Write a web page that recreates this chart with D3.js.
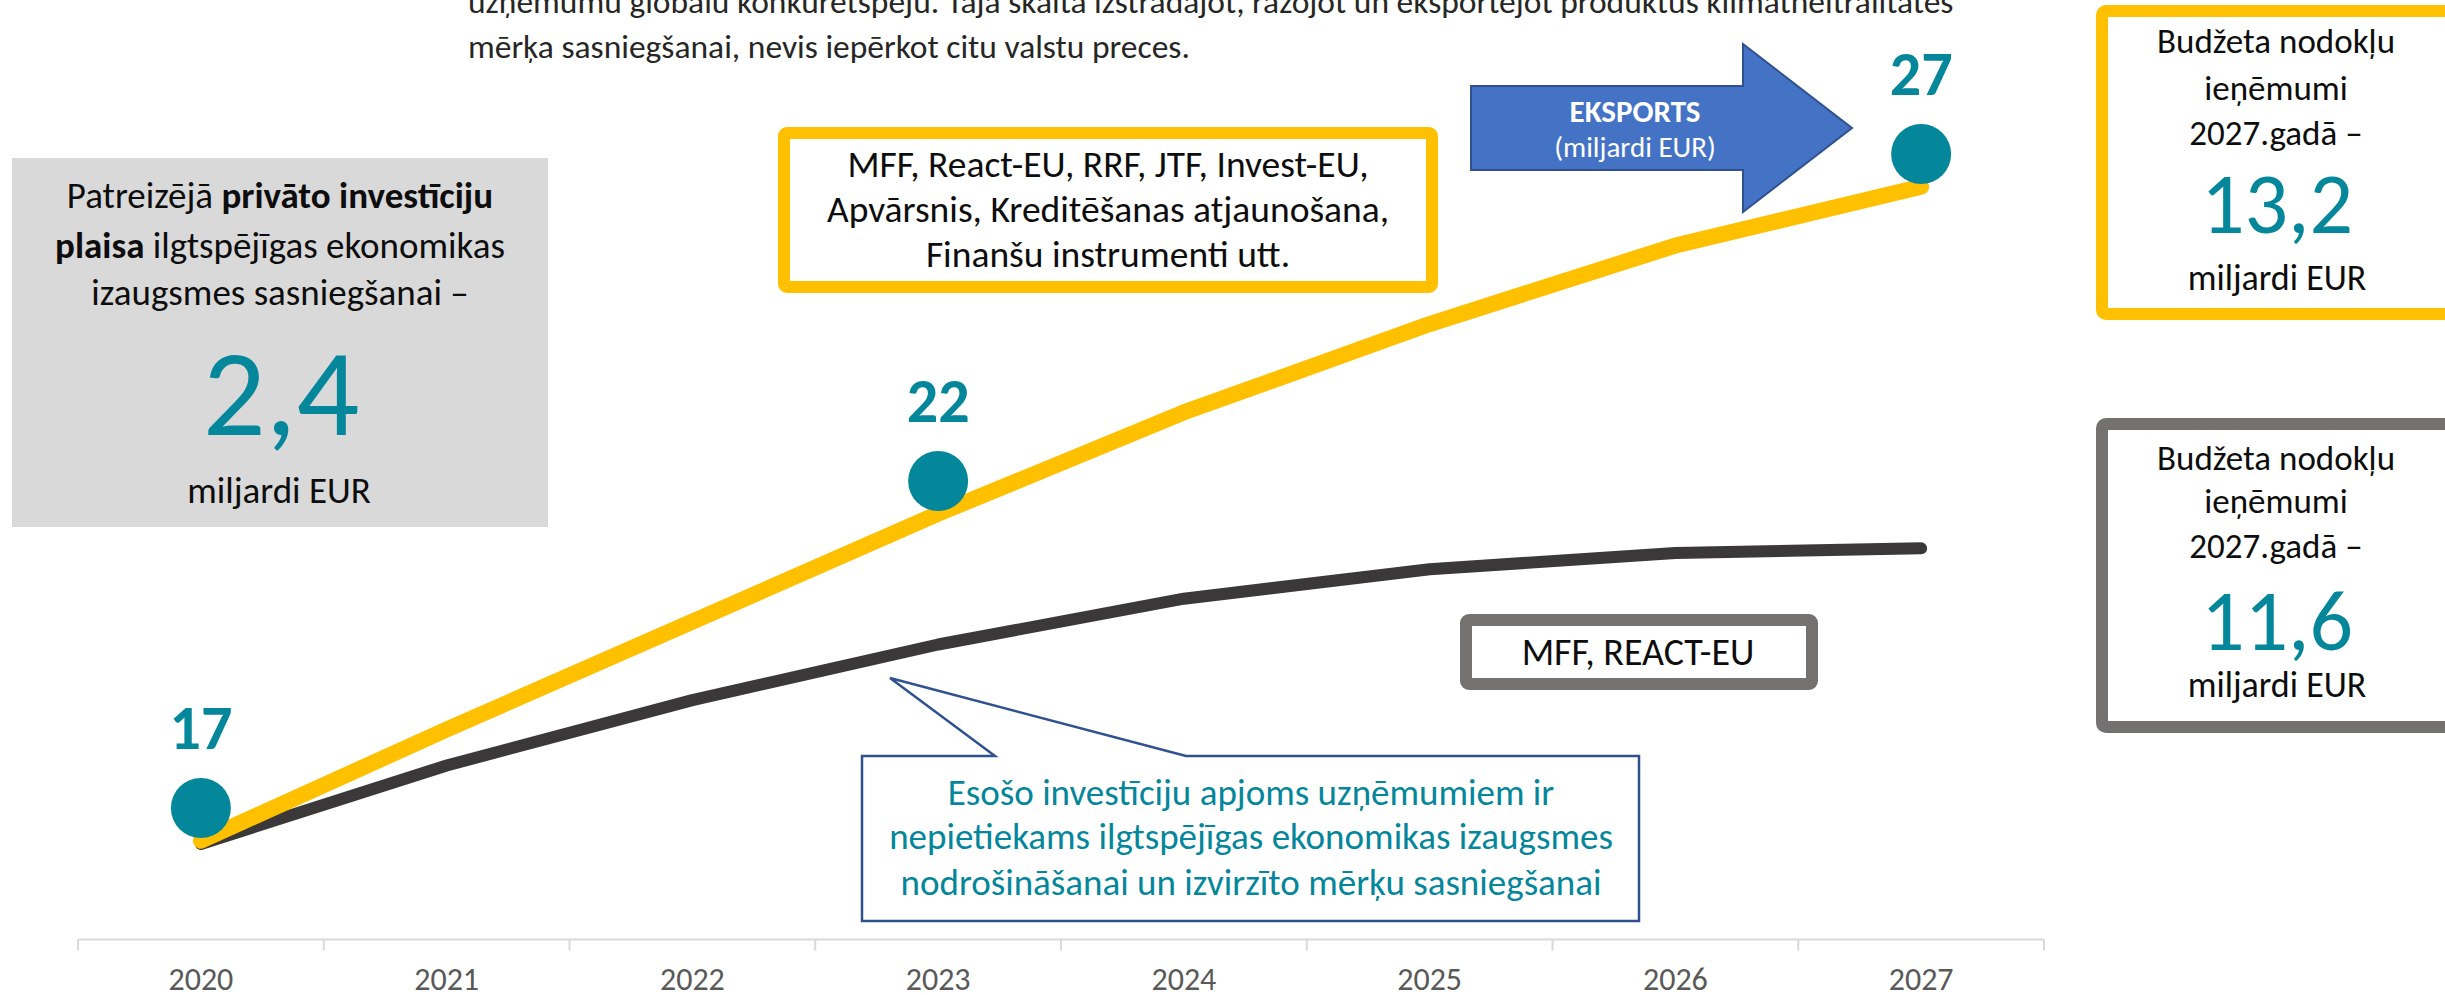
<!DOCTYPE html>
<html>
<head>
<meta charset="utf-8">
<script src="https://cdn.jsdelivr.net/npm/d3@7"></script>
<style>
  body { margin: 0; background: #fff; overflow: hidden; }
  text { font-family: Carlito, Calibri, Lato, sans-serif; }
</style>
</head>
<body>
<script>
const width = 2445
const height = 995

const teal = '#04869B'
const yellow = '#FFC000'
const greyBorder = '#767171'

// gadi uz x ass
const years = ['2020', '2021', '2022', '2023', '2024', '2025', '2026', '2027']

// eksports, miljardi EUR (apļi)
const exportYears = ['2020', '2023', '2027']
const exportValues = [17, 22, 27]

// līnijas (nolasītas no attēla, tajā pašā mērogā)
const allFunds = [16.5, 18.2, 19.85, 21.5, 23.05, 24.4, 25.6, 26.5]
const mffReact = [16.45, 17.65, 18.65, 19.5, 20.2, 20.65, 20.9, 20.97]

// lielie skaitļi kastēs
const gapValue = '2,4'
const budgetAll = '13,2'
const budgetMff = '11,6'

const introLines = [
  'uzņēmumu globālu konkurētspēju. Tajā skaitā izstrādājot, ražojot un eksportējot produktus klimatneitralitātes',
  'mērķa sasniegšanai, nevis iepērkot citu valstu preces.'
]
const fundsLines = ['MFF, React-EU, RRF, JTF, Invest-EU,', 'Apvārsnis, Kreditēšanas atjaunošana,', 'Finanšu instrumenti utt.']
const budgetLines = ['Budžeta nodokļu', 'ieņēmumi', '2027.gadā –']
const calloutLines = [
  'Esošo investīciju apjoms uzņēmumiem ir',
  'nepietiekams ilgtspējīgas ekonomikas izaugsmes',
  'nodrošināšanai un izvirzīto mērķu sasniegšanai'
]

const x = d3.scaleBand().domain(years).range([78, 2044])
const y = d3.scaleLinear().domain([17, 27]).range([808, 154])
const cx = d => x(d) + x.bandwidth() / 2

const svg = d3.select('body').append('svg').attr('width', width).attr('height', height)

// ---- top paragraph (cut off)
svg.append('g')
  .selectAll('text')
  .data(introLines)
  .join('text')
  .attr('x', 468)
  .attr('y', (d, i) => 13 + i * 45)
  .style('font-size', '33.5px')
  .style('fill', '#262626')
  .text(d => d)

// ---- x axis
const axisY = 939.5
const axisG = svg.append('g').attr('transform', `translate(0,${axisY})`)
axisG.append('line')
  .attr('x1', x.range()[0]).attr('x2', x.range()[1])
  .attr('stroke', '#d9d9d9').attr('stroke-width', 2)
axisG.selectAll('line.tick')
  .data(years.concat(['end']))
  .join('line')
  .attr('class', 'tick')
  .attr('x1', d => d === 'end' ? x.range()[1] : x(d))
  .attr('x2', d => d === 'end' ? x.range()[1] : x(d))
  .attr('y1', 0).attr('y2', 11)
  .attr('stroke', '#d9d9d9').attr('stroke-width', 2)

const axis = svg.append('g')
  .attr('transform', `translate(0,${axisY})`)
  .call(d3.axisBottom(x).tickSize(0))
axis.select('.domain').remove()
axis.selectAll('text')
  .attr('y', 50).attr('dy', 0)
  .style('font-size', '32px')
  .style('font-family', 'Carlito, Calibri, Lato, sans-serif')
  .style('fill', '#595959')

// ---- lines
const lineGen = d3.line()
  .x((d, i) => cx(years[i]))
  .y(d => y(d))

svg.append('path')
  .datum(mffReact)
  .attr('d', lineGen)
  .attr('fill', 'none')
  .attr('stroke', '#3A3838')
  .attr('stroke-width', 12)
  .attr('stroke-linecap', 'round')
  .attr('stroke-linejoin', 'round')

svg.append('path')
  .datum(allFunds)
  .attr('d', lineGen)
  .attr('fill', 'none')
  .attr('stroke', yellow)
  .attr('stroke-width', 16)
  .attr('stroke-linecap', 'round')
  .attr('stroke-linejoin', 'round')

// ---- export points
const pts = svg.append('g')
  .selectAll('g')
  .data(exportYears.map((d, i) => ({ year: d, value: exportValues[i] })))
  .join('g')
  .attr('transform', d => `translate(${[cx(d.year), y(d.value)]})`)
pts.append('circle').attr('r', 30).attr('fill', teal)
pts.append('text')
  .attr('y', -59)
  .attr('text-anchor', 'middle')
  .style('font-size', '62px')
  .style('font-weight', 700)
  .style('fill', teal)
  .text(d => d.value)

// ---- grey box on the left
svg.append('rect')
  .attr('x', 12).attr('y', 158).attr('width', 536).attr('height', 369)
  .attr('fill', '#D9D9D9')

const gapText = [
  [['Patreizējā ', 400], ['privāto investīciju', 700]],
  [['plaisa', 700], [' ilgtspējīgas ekonomikas', 400]],
  [['izaugsmes sasniegšanai –', 400]]
]
svg.append('g')
  .selectAll('text')
  .data(gapText)
  .join('text')
  .attr('x', 280)
  .attr('y', (d, i) => [208, 258, 305][i])
  .attr('text-anchor', 'middle')
  .style('font-size', '37px')
  .style('fill', '#0d0d0d')
  .selectAll('tspan')
  .data(d => d)
  .join('tspan')
  .style('font-weight', d => d[1])
  .text(d => d[0])

svg.append('text')
  .attr('x', 281).attr('y', 435)
  .attr('text-anchor', 'middle')
  .style('font-size', '124px').style('font-weight', 300)
  .style('fill', teal)
  .text(gapValue)
svg.append('text')
  .attr('x', 279).attr('y', 503)
  .attr('text-anchor', 'middle')
  .style('font-size', '37px').style('fill', '#0d0d0d')
  .text('miljardi EUR')

// ---- yellow funds box
svg.append('rect')
  .attr('x', 784).attr('y', 133).attr('width', 648).attr('height', 154).attr('rx', 3)
  .attr('fill', '#fff').attr('stroke', yellow).attr('stroke-width', 12)
svg.append('g')
  .selectAll('text')
  .data(fundsLines)
  .join('text')
  .attr('x', 1108)
  .attr('y', (d, i) => 177 + i * 45)
  .attr('text-anchor', 'middle')
  .style('font-size', '37.5px').style('fill', '#0d0d0d')
  .text(d => d)

// ---- export arrow
svg.append('path')
  .attr('d', 'M1471,86 H1743 V44 L1852,128 L1743,212 V170 H1471 Z')
  .attr('fill', '#4472C4').attr('stroke', '#2F528F').attr('stroke-width', 2)
svg.append('text')
  .attr('x', 1635).attr('y', 122).attr('text-anchor', 'middle')
  .style('font-size', '31px').style('font-weight', 700).style('fill', '#fff')
  .text('EKSPORTS')
svg.append('text')
  .attr('x', 1635).attr('y', 157).attr('text-anchor', 'middle')
  .style('font-size', '29px').style('fill', '#fff')
  .text('(miljardi EUR)')

// ---- budget boxes on the right
function budgetBox(top, h, colour, value, ys) {
  svg.append('rect')
    .attr('x', 2102).attr('y', top).attr('width', 360).attr('height', h).attr('rx', 4)
    .attr('fill', '#fff').attr('stroke', colour).attr('stroke-width', 12)
  svg.append('g')
    .selectAll('text')
    .data(budgetLines)
    .join('text')
    .attr('x', 2276)
    .attr('y', (d, i) => ys[i])
    .attr('text-anchor', 'middle')
    .style('font-size', '35px').style('fill', '#0d0d0d')
    .text(d => d)
  svg.append('text')
    .attr('x', 2277).attr('y', ys[3])
    .attr('text-anchor', 'middle')
    .style('font-size', '86px').style('font-weight', 300).style('fill', teal)
    .text(value)
  svg.append('text')
    .attr('x', 2277).attr('y', ys[4])
    .attr('text-anchor', 'middle')
    .style('font-size', '36px').style('fill', '#0d0d0d')
    .text('miljardi EUR')
}
budgetBox(11, 303, yellow, budgetAll, [53, 100, 145, 233, 290])
budgetBox(424, 303, greyBorder, budgetMff, [470, 513, 558, 650, 697])

// ---- MFF, REACT-EU box
svg.append('rect')
  .attr('x', 1466).attr('y', 620).attr('width', 346).attr('height', 64).attr('rx', 3)
  .attr('fill', '#fff').attr('stroke', greyBorder).attr('stroke-width', 12)
svg.append('text')
  .attr('x', 1638).attr('y', 665).attr('text-anchor', 'middle')
  .style('font-size', '38px').style('fill', '#0d0d0d')
  .text('MFF, REACT-EU')

// ---- callout
svg.append('path')
  .attr('d', 'M862,756 H995 L890,678 L1186,756 H1639 V921 H862 Z')
  .attr('fill', '#fff').attr('stroke', '#2F528F').attr('stroke-width', 2.5)
svg.append('g')
  .selectAll('text')
  .data(calloutLines)
  .join('text')
  .attr('x', 1251)
  .attr('y', (d, i) => [805, 849, 895][i])
  .attr('text-anchor', 'middle')
  .style('font-size', '37px').style('fill', teal)
  .text(d => d)
</script>
</body>
</html>
